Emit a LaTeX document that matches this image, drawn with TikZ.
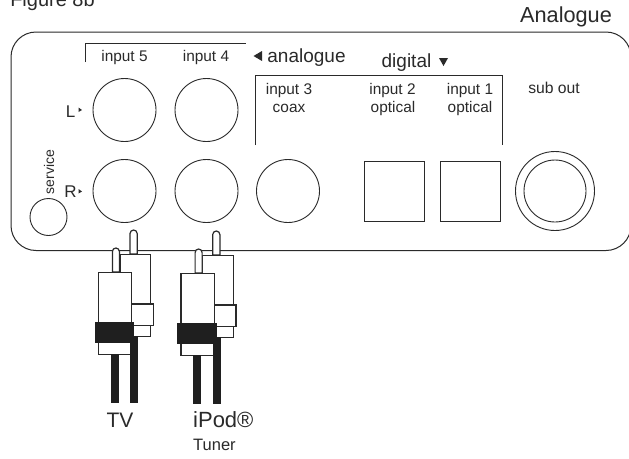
\documentclass[tikz,border=0pt]{standalone}
\usepackage{fontspec}
\setmainfont{Liberation Sans}
\definecolor{ink}{HTML}{2A2A2A}
\newcommand{\fs}[1]{\fontsize{#1}{#1}\selectfont}
\tikzset{
  x=1pt,y=-1pt,
  lbl/.style={inner sep=0pt,text=ink,anchor=base},
  jack/.style={circle,draw=ink,line width=0.9pt,fill=white,inner sep=0pt,minimum size=63pt},
  opticalport/.style={rectangle,draw=ink,line width=0.9pt,inner sep=0pt,minimum size=59.5pt},
  plugline/.style={draw=ink,line width=1.2pt,fill=white},
  blackpart/.style={fill=black!88,draw=none},
  tipmark/.style={fill=ink,draw=none},
}
\newcommand{\plug}[2]{%
\begin{scope}[shift={(#1,#2)}]
  % rear plug
  \path[plugline] (130,254) -- (130,233.6) arc[start angle=180,end angle=360,radius=3.6] -- (137.2,254) -- cycle;
  \path[plugline] (120,254.3) rectangle (150.7,336.7);
  \path[plugline] (131.7,304) rectangle (153.3,325.3);
  \path[blackpart] (130.3,336) rectangle (138.3,403);
  % front plug
  \path[plugline] (112.4,272) -- (112.4,251.5) arc[start angle=180,end angle=360,radius=3.5] -- (119.4,272) -- cycle;
  \path[plugline] (98.3,272.3) rectangle (131.7,354.3);
  \path[blackpart] (94.7,322) rectangle (134.3,343);
  \path[blackpart] (110.7,354.3) rectangle (118.7,403);
  \path[blackpart] (130.3,343) rectangle (138.3,403);
\end{scope}}
\begin{document}
\begin{tikzpicture}
\useasboundingbox (0,0) rectangle (629,458);
\clip (0,0) rectangle (629,458);
\fill[white] (0,0) rectangle (629,458);
% panel
\draw[ink,line width=1pt,rounded corners=25pt] (11,32) rectangle (631,250.5);
% brackets
\draw[ink,line width=0.9pt] (85,62) -- (85,43) -- (246,43);
\draw[ink,line width=0.9pt] (255,145) -- (255,75) -- (502.5,75) -- (502.5,145);
% jacks
\node[jack] (in5L) at (124.5,110) {};
\node[jack] (in4L) at (206.5,110) {};
\node[jack] (in5R) at (124.5,191) {};
\node[jack] (in4R) at (206.5,191) {};
\node[jack] (in3)  at (288,191) {};
\node[jack,minimum size=37pt] (svc) at (48.5,217) {};
\node[opticalport] (in2) at (394.5,191.5) {};
\node[opticalport] (in1) at (470.3,191.5) {};
\node[jack,minimum size=79pt] (subA) at (555,191) {};
\node[jack,minimum size=62pt] (subB) at (555,191) {};
% plugs
\plug{0}{0}
\plug{82.7}{1}
% small arrows
\fill[tipmark] (78.5,107.5) -- (82,110) -- (78.5,112) -- cycle;
\fill[tipmark] (78.5,189) -- (82,191.5) -- (78.5,193.5) -- cycle;
\fill[tipmark] (262,51) -- (253.5,56) -- (262,61) -- cycle;
\fill[tipmark] (439,58) -- (448,58) -- (443.5,66) -- cycle;
% labels
\node[lbl,font=\fs{20}] (fig) at (52.5,6) {Figure 8b};
\node[lbl,font=\fs{21.7}] (ana) at (566,22) {Analogue};
\node[lbl,font=\fs{15.4}] (t5) at (124.5,61.5) {input 5};
\node[lbl,font=\fs{15.4}] (t4) at (206,61.5) {input 4};
\node[lbl,font=\fs{19}] (tana) at (306.5,62) {analogue};
\node[lbl,font=\fs{19}] (tdig) at (406.5,67) {digital};
\node[lbl,font=\fs{15.4}] (t3) at (289,94) {input 3};
\node[lbl,font=\fs{15.4}] (t3b) at (289,112) {coax};
\node[lbl,font=\fs{15.4}] (t2) at (392.5,94) {input 2};
\node[lbl,font=\fs{15.4}] (t2b) at (393,112) {optical};
\node[lbl,font=\fs{15.4}] (t1) at (470,94) {input 1};
\node[lbl,font=\fs{15.4}] (t1b) at (470,112) {optical};
\node[lbl,font=\fs{15.7}] (tsub) at (554,93) {sub out};
\node[lbl,font=\fs{17}] (tL) at (70.5,117) {L};
\node[lbl,font=\fs{17}] (tR) at (70.5,197) {R};
\node[lbl,font=\fs{14},rotate=90] (tsvc) at (54,172) {service};
\node[lbl,font=\fs{21}] (tTV) at (120,427) {TV};
\node[lbl,font=\fs{22},anchor=base west] (tip) at (193,427) {iPod®};
\node[lbl,font=\fs{16.5},anchor=base west] (ttu) at (193,450) {Tuner};
\end{tikzpicture}
\end{document}
